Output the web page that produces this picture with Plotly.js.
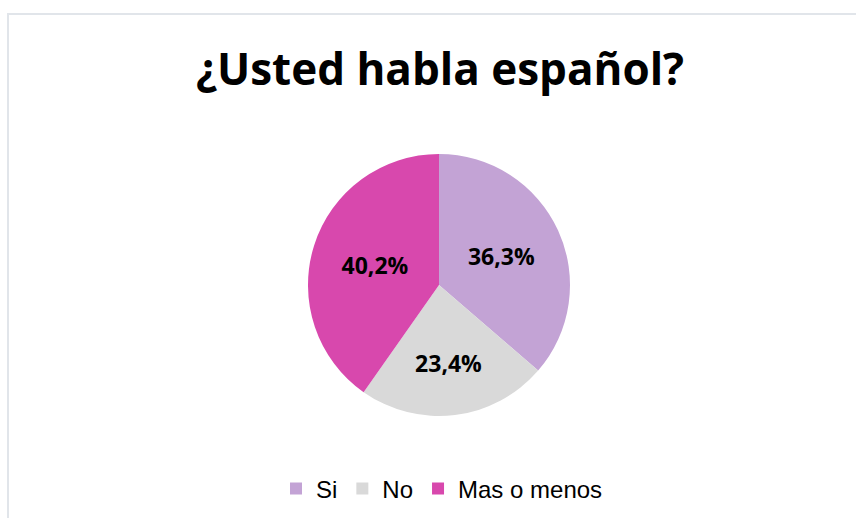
<!DOCTYPE html>
<html>
<head>
<meta charset="utf-8">
<script src="https://cdn.plot.ly/plotly-3.0.1.min.js"></script>
<style>
  html, body { margin: 0; padding: 0; background: #ffffff; }
  #wrap { position: relative; width: 856px; height: 518px; overflow: hidden; }
  #chart { width: 856px; height: 518px; }
  #frame { position: absolute; left: 7px; top: 13px; width: 900px; height: 600px;
           border-left: 2px solid #e1e5ea; border-top: 2px solid #e1e5ea; pointer-events: none; }
</style>
</head>
<body>
<div id="wrap">
  <div id="chart"></div>
  <div id="frame"></div>
</div>
<script>
const categories = ["Si", "No", "Mas o menos"];
const values = [36.3, 23.4, 40.2];
const colors = ["#c3a3d5", "#d9d9d9", "#d848ad"];
const chartTitle = "¿Usted habla español?";

const trace = {
  type: "pie",
  labels: categories,
  values: values,
  sort: false,
  direction: "clockwise",
  rotation: 0,
  marker: { colors: colors, line: { width: 0 } },
  texttemplate: "%{value:.1f}%",
  textposition: "inside",
  insidetextorientation: "horizontal",
  textfont: { family: "Open Sans, sans-serif", size: 23, color: "#000000", weight: "bold" },
  hoverinfo: "label+percent",
  domain: { x: [308 / 856, 570 / 856], y: [102 / 518, 364 / 518] }
};

const layout = {
  width: 856,
  height: 518,
  margin: { l: 0, r: 0, t: 0, b: 0 },
  paper_bgcolor: "#ffffff",
  separators: ", ",
  title: {
    text: "<b>" + chartTitle + "</b>",
    font: { family: "Open Sans, sans-serif", size: 44, color: "#000000" },
    x: 440 / 856, xanchor: "center", xref: "paper",
    y: 1 - 70 / 518, yanchor: "middle", yref: "paper"
  },
  showlegend: true,
  legend: {
    orientation: "h",
    x: 442 / 856, xanchor: "center",
    y: 1 - 489 / 518, yanchor: "middle",
    font: { family: "Liberation Sans, Arial, sans-serif", size: 24, color: "#000000" },
    traceorder: "normal",
    itemclick: false
  }
};

Plotly.newPlot("chart", [trace], layout, { displayModeBar: false, staticPlot: true });
</script>
</body>
</html>
